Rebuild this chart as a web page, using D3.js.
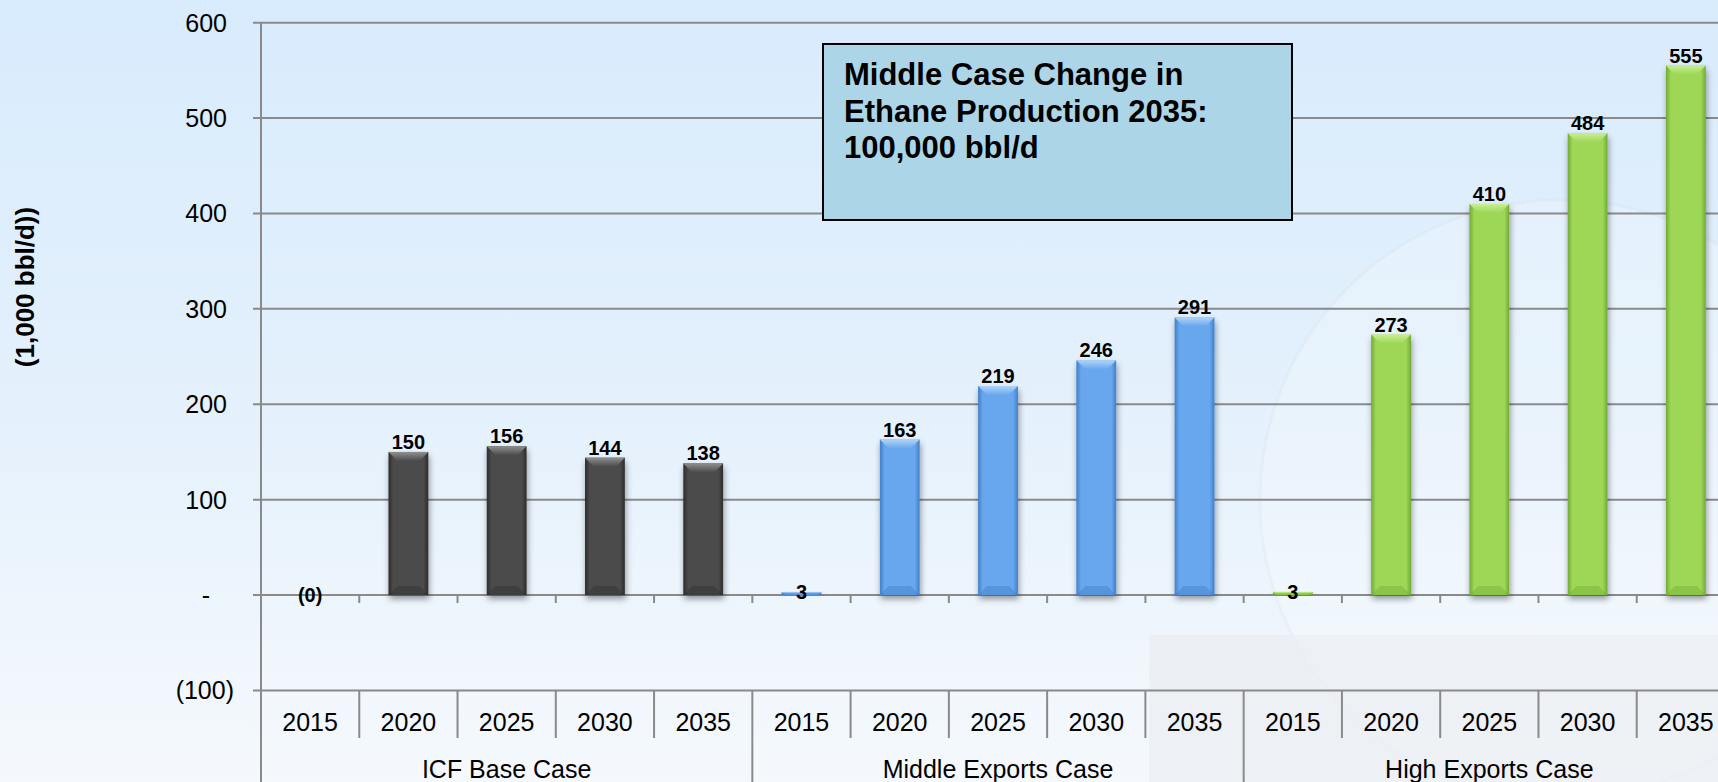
<!DOCTYPE html>
<html>
<head>
<meta charset="utf-8">
<script src="https://cdn.jsdelivr.net/npm/d3@7"></script>
<style>
  html, body { margin: 0; padding: 0; overflow: hidden; background: #eaf4fd; }
  svg { display: block; font-family: "Liberation Sans", Arial, sans-serif; }
</style>
</head>
<body>
<svg id="chart" width="1718" height="782"></svg>
<script>
// ---------------- data ----------------
const categories = ["2015", "2020", "2025", "2030", "2035"];
const groups = ["ICF Base Case", "Middle Exports Case", "High Exports Case"];
const icfBase = [-0.2, 150, 156, 144, 138];
const middleExports = [3, 163, 219, 246, 291];
const highExports = [3, 273, 410, 484, 555];
const yTicks = [-100, 0, 100, 200, 300, 400, 500, 600];
const yTitle = "(1,000 bbl/d))";
const noteLines = ["Middle Case Change in", "Ethane Production 2035:", "100,000 bbl/d"];

// ---------------- setup ----------------
const W = 1718, H = 782;
const svg = d3.select("#chart");
const defs = svg.append("defs");

const seriesValues = [icfBase, middleExports, highExports];
const palette = [
  { base: "#4b4b4b", edge: "#2c2c2c", bevel: "#909090", bottom: "#2a2a2a" },
  { base: "#68a7ed", edge: "#3f7fcb", bevel: "#b0d3f8", bottom: "#3a74bb" },
  { base: "#9dd755", edge: "#70aa35", bevel: "#c8ee94", bottom: "#6aa232" }
];

const rows = groups.flatMap((g, gi) => categories.map((c, ci) => ({
  key: g + "|" + c, group: g, gi, year: c, value: seriesValues[gi][ci]
})));

// background gradient
const bg = defs.append("linearGradient").attr("id", "bg").attr("x1", 0).attr("y1", 0).attr("x2", 0).attr("y2", 1);
bg.append("stop").attr("offset", "0%").attr("stop-color", "#d8ebfc");
bg.append("stop").attr("offset", "55%").attr("stop-color", "#e5f1fc");
bg.append("stop").attr("offset", "100%").attr("stop-color", "#f5f9fd");
svg.append("rect").attr("width", W).attr("height", H).attr("fill", "url(#bg)");

// faint watermark decoration
svg.append("circle").attr("cx", 1560).attr("cy", 500).attr("r", 300)
  .attr("fill", "#ffffff").attr("fill-opacity", 0.2)
  .attr("stroke", "#d0d8e0").attr("stroke-opacity", 0.18).attr("stroke-width", 3);
svg.append("rect").attr("x", 1149).attr("y", 635).attr("width", W - 1149).attr("height", H - 635)
  .attr("fill", "#ebeef2").attr("fill-opacity", 0.75);

// gradients per series
palette.forEach((p, i) => {
  const g = defs.append("linearGradient").attr("id", "body" + i).attr("x1", 0).attr("x2", 1).attr("y1", 0).attr("y2", 0);
  g.append("stop").attr("offset", "0%").attr("stop-color", p.edge);
  g.append("stop").attr("offset", "12%").attr("stop-color", p.base);
  g.append("stop").attr("offset", "88%").attr("stop-color", p.base);
  g.append("stop").attr("offset", "100%").attr("stop-color", p.edge);
  const t = defs.append("linearGradient").attr("id", "bev" + i).attr("x1", 0).attr("x2", 0).attr("y1", 0).attr("y2", 1);
  t.append("stop").attr("offset", "0%").attr("stop-color", p.bevel);
  t.append("stop").attr("offset", "100%").attr("stop-color", p.base);
});
const sh = defs.append("filter").attr("id", "shadow").attr("x", "-30%").attr("y", "-10%").attr("width", "160%").attr("height", "130%");
sh.append("feDropShadow").attr("dx", 1).attr("dy", 4).attr("stdDeviation", 3)
  .attr("flood-color", "#000").attr("flood-opacity", 0.4);

// ---------------- scales ----------------
const x = d3.scaleBand().domain(rows.map(d => d.key)).range([261, 1735]).paddingInner(0).paddingOuter(0);
const y = d3.scaleLinear().domain([-100, 600]).range([690.4, 22.7]);
const step = x.step();
const barW = step * 0.405;
const lineCol = "#8a8a8a";

// gridlines
svg.append("g").selectAll("line.grid").data(yTicks).join("line")
  .attr("x1", 253).attr("x2", W).attr("y1", d => y(d)).attr("y2", d => y(d))
  .attr("stroke", lineCol).attr("stroke-width", 2);

// y axis labels
const yAxis = d3.axisLeft(y).tickValues(yTicks).tickSize(0)
  .tickFormat(v => v < 0 ? "(" + d3.format(",")(-v) + ")" : v === 0 ? "-" : d3.format(",")(v));
const ya = svg.append("g").attr("transform", "translate(237,0)").call(yAxis);
ya.select(".domain").remove();
ya.selectAll("text").attr("font-size", 25).attr("fill", "#000")
  .attr("font-family", "'Liberation Sans', Arial, sans-serif")
  .attr("dx", d => d > 0 ? -7 : d === 0 ? -24 : 0).attr("dy", "0.34em");

// y axis line
svg.append("line").attr("x1", 261).attr("x2", 261).attr("y1", y(600)).attr("y2", H)
  .attr("stroke", lineCol).attr("stroke-width", 2);

// zero axis with tick marks
svg.append("line").attr("x1", 253).attr("x2", W).attr("y1", y(0)).attr("y2", y(0))
  .attr("stroke", lineCol).attr("stroke-width", 2);
svg.append("g").selectAll("line").data(rows.slice(1)).join("line")
  .attr("x1", d => x(d.key)).attr("x2", d => x(d.key))
  .attr("y1", y(0)).attr("y2", y(0) + 8)
  .attr("stroke", lineCol).attr("stroke-width", 2);

// category label dividers
svg.append("g").selectAll("line").data(rows.slice(1)).join("line")
  .attr("x1", d => x(d.key)).attr("x2", d => x(d.key))
  .attr("y1", y(-100)).attr("y2", d => d.year === categories[0] ? H : 738)
  .attr("stroke", lineCol).attr("stroke-width", 2);

// year labels
svg.append("g").selectAll("text").data(rows).join("text")
  .attr("x", d => x(d.key) + step / 2).attr("y", 731)
  .attr("text-anchor", "middle").attr("font-size", 25).attr("fill", "#000")
  .text(d => d.year);

// group labels
svg.append("g").selectAll("text").data(groups).join("text")
  .attr("x", (g, gi) => {
    const keys = rows.filter(r => r.gi === gi).map(r => r.key);
    return (x(keys[0]) + x(keys[keys.length - 1]) + step) / 2;
  })
  .attr("y", 778).attr("text-anchor", "middle").attr("font-size", 25).attr("fill", "#000")
  .text(g => g);

// ---------------- bars ----------------
const bars = svg.append("g").selectAll("g.bar").data(rows.filter(d => d.value > 0)).join("g").attr("class", "bar");
bars.each(function (d) {
  const g = d3.select(this);
  const x0 = x(d.key) + (step - barW) / 2;
  const top = y(d.value), bot = y(0);
  const h = bot - top;
  const b = Math.min(9, h / 2);
  const p = palette[d.gi];
  g.append("rect").attr("x", x0).attr("y", top).attr("width", barW).attr("height", h)
    .attr("fill", "url(#body" + d.gi + ")").attr("filter", "url(#shadow)");
  g.append("polygon")
    .attr("points", [[x0, top], [x0 + barW, top], [x0 + barW - b, top + b], [x0 + b, top + b]].map(q => q.join(",")).join(" "))
    .attr("fill", "url(#bev" + d.gi + ")");
  g.append("polygon")
    .attr("points", [[x0, bot], [x0 + barW, bot], [x0 + barW - b, bot - b], [x0 + b, bot - b]].map(q => q.join(",")).join(" "))
    .attr("fill", p.bottom).attr("fill-opacity", 0.35);
});

// value labels
svg.append("g").selectAll("text").data(rows).join("text")
  .attr("x", d => x(d.key) + step / 2)
  .attr("y", d => Math.abs(d.value) < 10 ? y(d.value) + 7 : y(d.value) - 3)
  .attr("text-anchor", "middle").attr("font-size", 20).attr("font-weight", "bold").attr("fill", "#000")
  .text(d => d.value < 0 ? "(" + d3.format(",.0f")(-d.value) + ")" : d3.format(",.0f")(d.value));

// y title
svg.append("text").attr("transform", "translate(34,287) rotate(-90)")
  .attr("text-anchor", "middle").attr("font-size", 26).attr("font-weight", "bold").attr("fill", "#000")
  .text(yTitle);

// note box
svg.append("rect").attr("x", 823).attr("y", 44).attr("width", 469).attr("height", 176)
  .attr("fill", "#acd5e7").attr("stroke", "#000").attr("stroke-width", 2);
svg.append("g").selectAll("text").data(noteLines).join("text")
  .attr("x", 844).attr("y", (d, i) => 85 + i * 36.7)
  .attr("font-size", 31).attr("font-weight", "bold").attr("fill", "#000")
  .text(d => d);
</script>
</body>
</html>
